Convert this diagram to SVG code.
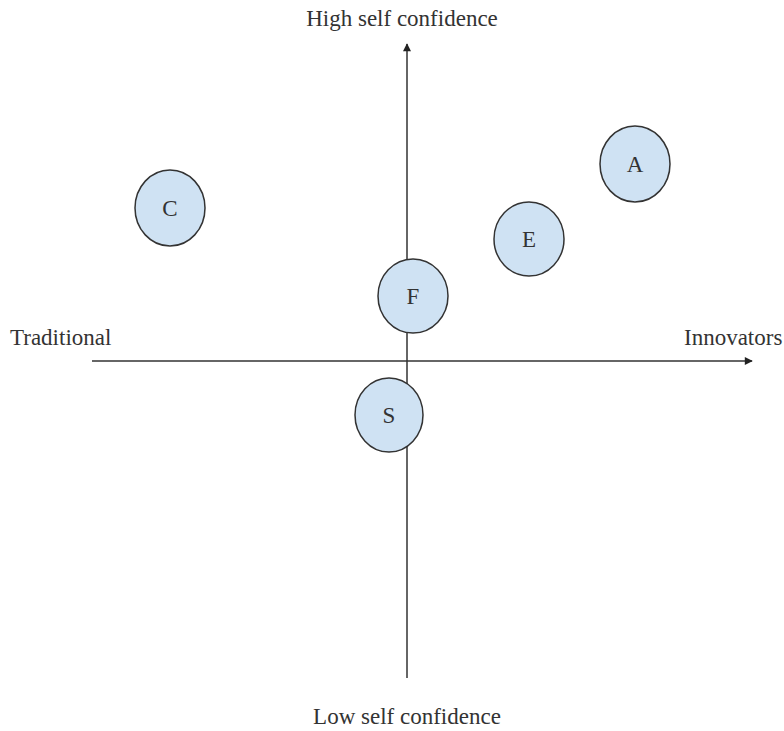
<svg xmlns="http://www.w3.org/2000/svg" width="784" height="731" viewBox="0 0 784 731">
<style>
.t{font-family:"Liberation Serif","Times New Roman",serif;font-size:23px;fill:#333}
.n ellipse{fill:#cfe2f3;stroke:#333;stroke-width:1.5}
.ax{stroke:#333;stroke-width:1.5;fill:none}
</style>
<defs>
<marker id="ah" viewBox="0 0 10 10" refX="9" refY="5" markerWidth="10" markerHeight="8" markerUnits="userSpaceOnUse" orient="auto">
<path d="M0,0 L10,5 L0,10 z" fill="#222"/>
</marker>
</defs>
<rect width="784" height="731" fill="#fff"/>
<g id="connectors">
<line class="ax" x1="407" y1="678" x2="407" y2="44" marker-end="url(#ah)"/>
<line class="ax" x1="92" y1="361" x2="752" y2="361" marker-end="url(#ah)"/>
</g>
<g id="labels">
<text class="t" x="402" y="26" text-anchor="middle">High self confidence</text>
<text class="t" x="10" y="345">Traditional</text>
<text class="t" x="684" y="345">Innovators</text>
<text class="t" x="407" y="724" text-anchor="middle">Low self confidence</text>
</g>
<g id="node-C" class="n"><ellipse cx="170" cy="208" rx="35" ry="38"/><text class="t" x="170" y="216" text-anchor="middle">C</text></g>
<g id="node-A" class="n"><ellipse cx="635" cy="164" rx="35" ry="38"/><text class="t" x="635" y="172" text-anchor="middle">A</text></g>
<g id="node-E" class="n"><ellipse cx="529" cy="239" rx="35" ry="37"/><text class="t" x="529" y="247" text-anchor="middle">E</text></g>
<g id="node-F" class="n"><ellipse cx="413" cy="296" rx="35" ry="37"/><text class="t" x="413" y="304" text-anchor="middle">F</text></g>
<g id="node-S" class="n"><ellipse cx="389" cy="415" rx="34" ry="37"/><text class="t" x="389" y="423" text-anchor="middle">S</text></g>
</svg>
